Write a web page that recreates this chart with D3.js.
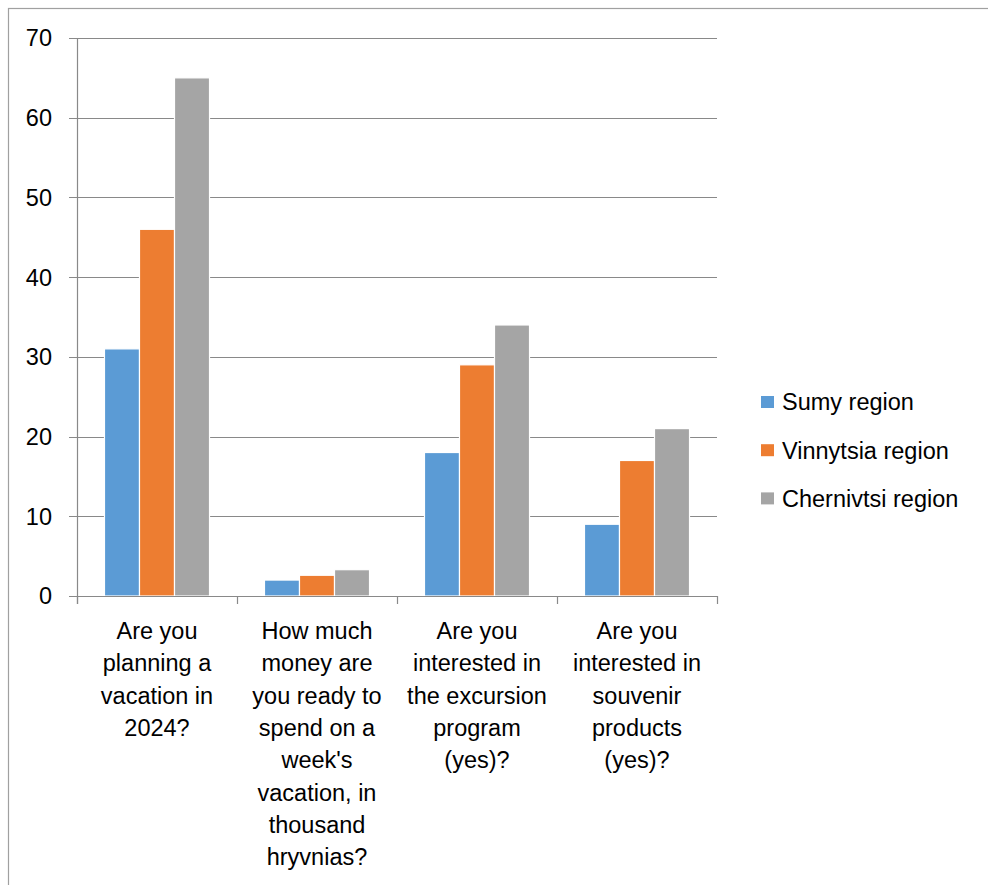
<!DOCTYPE html>
<html>
<head>
<meta charset="utf-8">
<script src="https://cdn.jsdelivr.net/npm/d3@7"></script>
<style>
  body { margin: 0; background: #fff; }
  text { font-family: "Liberation Sans", Arial, sans-serif; fill: #000; }
</style>
</head>
<body>
<div id="chart"></div>
<script>
// data
var categories = [
  "Are you\nplanning a\nvacation in\n2024?",
  "How much\nmoney are\nyou ready to\nspend on a\nweek's\nvacation, in\nthousand\nhryvnias?",
  "Are you\ninterested in\nthe excursion\nprogram\n(yes)?",
  "Are you\ninterested in\nsouvenir\nproducts\n(yes)?"
];
var seriesNames = ["Sumy region", "Vinnytsia region", "Chernivtsi region"];
var sumy = [31, 2, 18, 9];
var vinnytsia = [46, 2.6, 29, 17];
var chernivtsi = [65, 3.3, 34, 21];
var yTicks = [0, 10, 20, 30, 40, 50, 60, 70];

var seriesValues = [sumy, vinnytsia, chernivtsi];
var colors = ["#5b9bd5", "#ed7d31", "#a5a5a5"];

// layout
var W = 988, H = 885;
var m = {top: 38, left: 77, right: 271, bottom: 289};
var w = W - m.left - m.right;
var h = H - m.top - m.bottom;
var fontSize = 23.5;
var axisColor = "#898989";

var svg = d3.select("#chart")
            .append("svg")
            .attr("width", W)
            .attr("height", H);

// chart border
svg.append("rect")
   .attr("x", 8.5)
   .attr("y", 8.5)
   .attr("width", W + 20)
   .attr("height", H + 20)
   .attr("fill", "#fff")
   .attr("stroke", "#a0a0a0")
   .attr("stroke-width", 1.2);

// scales
var x0 = d3.scaleBand()
           .domain(d3.range(categories.length))
           .range([0, w])
           .padding(0);

var gapWidth = 1.57;  // excel style gap width
var x1 = d3.scaleBand()
           .domain(d3.range(seriesNames.length))
           .range([0, x0.bandwidth()])
           .paddingInner(0)
           .paddingOuter(gapWidth / 2);

var y = d3.scaleLinear()
          .domain([0, 70])
          .range([h, 0]);

var g = svg.append("g")
           .attr("transform", "translate(" + m.left + "," + m.top + ")");

// gridlines
g.append("g")
 .selectAll("line")
 .data(yTicks)
 .enter()
 .append("line")
 .attr("x1", -8)
 .attr("x2", w)
 .attr("y1", (d) => Math.round(y(d)) + 0.5)
 .attr("y2", (d) => Math.round(y(d)) + 0.5)
 .attr("stroke", axisColor)
 .attr("stroke-width", 1.2);

// y axis line
g.append("line")
 .attr("x1", 0.5)
 .attr("x2", 0.5)
 .attr("y1", y(70))
 .attr("y2", h + 8)
 .attr("stroke", axisColor)
 .attr("stroke-width", 1.2);

// y labels
g.append("g")
 .selectAll("text")
 .data(yTicks)
 .enter()
 .append("text")
 .attr("x", -25)
 .attr("y", (d) => y(d))
 .attr("dy", "0.36em")
 .style("text-anchor", "end")
 .style("font-size", fontSize + "px")
 .text((d) => d);

// x ticks at category edges
var edges = d3.range(categories.length + 1).map((i) => i * x0.step());
g.append("g")
 .selectAll("line")
 .data(edges)
 .enter()
 .append("line")
 .attr("x1", (d) => Math.round(d) + 0.5)
 .attr("x2", (d) => Math.round(d) + 0.5)
 .attr("y1", h)
 .attr("y2", h + 8)
 .attr("stroke", axisColor)
 .attr("stroke-width", 1.2);

// bars
var groups = g.append("g")
              .selectAll("g")
              .data(seriesValues)
              .enter()
              .append("g")
              .attr("fill", (d, i) => colors[i]);

groups.selectAll("rect")
      .data((vals, si) => vals.map((v, ci) => ({s: si, c: ci, v: v})))
      .enter()
      .append("rect")
      .attr("x", (d) => x0(d.c) + x1(d.s))
      .attr("y", (d) => y(d.v))
      .attr("width", x1.bandwidth())
      .attr("height", (d) => h - y(d.v))
      .attr("stroke", "#fff")
      .attr("stroke-width", 1.2);

// redraw baseline over bars
g.append("line")
 .attr("x1", -8)
 .attr("x2", w)
 .attr("y1", Math.round(h) + 0.5)
 .attr("y2", Math.round(h) + 0.5)
 .attr("stroke", axisColor)
 .attr("stroke-width", 1.2);

// category labels
var lineH = 32.3;
var labels = g.append("g")
              .selectAll("text")
              .data(categories)
              .enter()
              .append("text")
              .attr("x", (d, i) => x0(i) + x0.bandwidth() / 2)
              .attr("y", h + 43)
              .style("text-anchor", "middle")
              .style("font-size", fontSize + "px");

labels.selectAll("tspan")
      .data((d) => d.split("\n"))
      .enter()
      .append("tspan")
      .attr("x", function() { return d3.select(this.parentNode).attr("x"); })
      .attr("dy", (d, i) => i === 0 ? 0 : lineH)
      .text((d) => d);

// legend
var legend = svg.append("g")
                .attr("transform", "translate(761,402)");

var items = legend.selectAll("g")
                  .data(seriesNames)
                  .enter()
                  .append("g")
                  .attr("transform", (d, i) => "translate(0," + (i * 48.2) + ")");

items.append("rect")
     .attr("x", 0)
     .attr("y", -6)
     .attr("width", 13)
     .attr("height", 12)
     .attr("fill", (d, i) => colors[i]);

items.append("text")
     .attr("x", 21)
     .attr("y", 0)
     .attr("dy", "0.36em")
     .style("font-size", fontSize + "px")
     .text((d) => d);
</script>
</body>
</html>
